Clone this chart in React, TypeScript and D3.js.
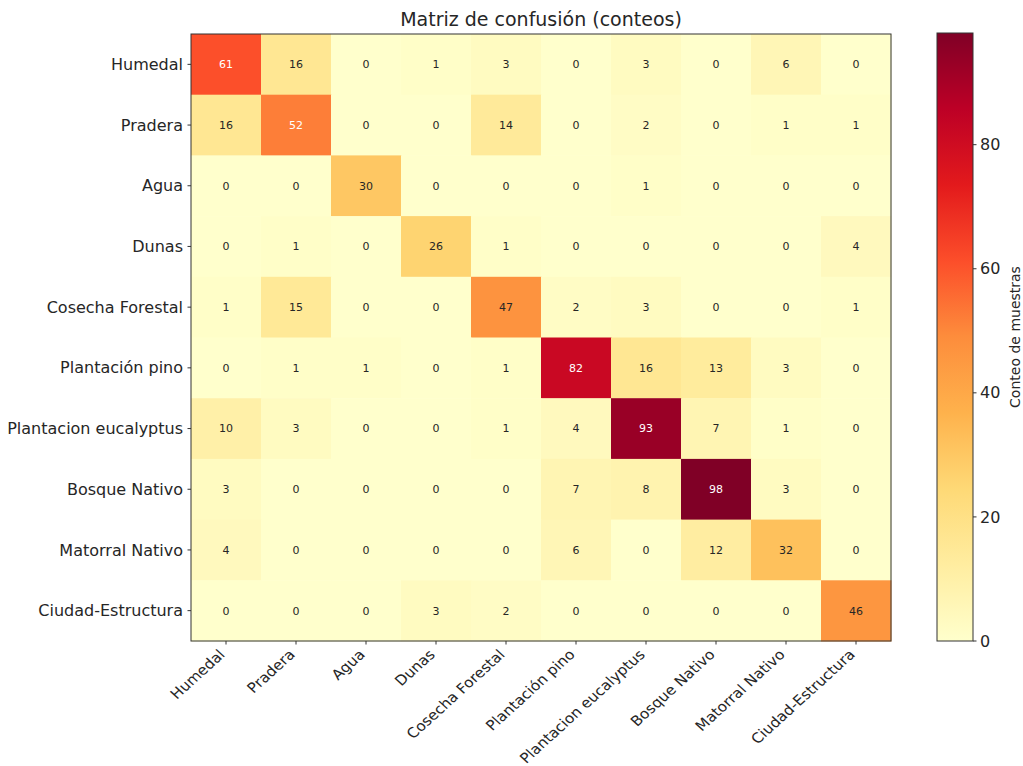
import React from "react";
import * as d3 from "d3";

const classes = [
  "Humedal",
  "Pradera",
  "Agua",
  "Dunas",
  "Cosecha Forestal",
  "Plantación pino",
  "Plantacion eucalyptus",
  "Bosque Nativo",
  "Matorral Nativo",
  "Ciudad-Estructura",
];

const rowHumedal = [61, 16, 0, 1, 3, 0, 3, 0, 6, 0];
const rowPradera = [16, 52, 0, 0, 14, 0, 2, 0, 1, 1];
const rowAgua = [0, 0, 30, 0, 0, 0, 1, 0, 0, 0];
const rowDunas = [0, 1, 0, 26, 1, 0, 0, 0, 0, 4];
const rowCosecha = [1, 15, 0, 0, 47, 2, 3, 0, 0, 1];
const rowPino = [0, 1, 1, 0, 1, 82, 16, 13, 3, 0];
const rowEucalyptus = [10, 3, 0, 0, 1, 4, 93, 7, 1, 0];
const rowBosque = [3, 0, 0, 0, 0, 7, 8, 98, 3, 0];
const rowMatorral = [4, 0, 0, 0, 0, 6, 0, 12, 32, 0];
const rowCiudad = [0, 0, 0, 3, 2, 0, 0, 0, 0, 46];

const matrix = [
  rowHumedal,
  rowPradera,
  rowAgua,
  rowDunas,
  rowCosecha,
  rowPino,
  rowEucalyptus,
  rowBosque,
  rowMatorral,
  rowCiudad,
];

const colorbarTicks = [0, 20, 40, 60, 80];

// YlOrRd (9-class) anchors, linearly interpolated
const ylOrRd = [
  "#ffffcc",
  "#ffeda0",
  "#fed976",
  "#feb24c",
  "#fd8d3c",
  "#fc4e2a",
  "#e31a1c",
  "#bd0026",
  "#800026",
];

const FONT = "DejaVu Sans, sans-serif";

export default function App() {
  const left = 191;
  const right = 891;
  const top = 34;
  const bottom = 641;

  const vmax = d3.max(matrix.flat()) as number;
  const vmin = 0;

  const x = d3.scaleBand<number>().domain(d3.range(classes.length)).range([left, right]).padding(0);
  const y = d3.scaleBand<number>().domain(d3.range(classes.length)).range([top, bottom]).padding(0);

  const color = d3
    .scaleLinear<string>()
    .domain(ylOrRd.map((_, i) => vmin + (i / (ylOrRd.length - 1)) * (vmax - vmin)))
    .range(ylOrRd)
    .interpolate(d3.interpolateRgb)
    .clamp(true);

  const threshold = vmax / 2;

  // colorbar geometry
  const cbLeft = 937;
  const cbRight = 973;
  const cbTop = 33;
  const cbBottom = 641;
  const cbScale = d3.scaleLinear().domain([vmin, vmax]).range([cbBottom, cbTop]);

  const textDark = "#262626";

  return (
    <svg
      width={1023}
      height={766}
      style={{ position: "absolute", left: 0, top: 0, background: "#fff" }}
      fontFamily={FONT}
    >
      <defs>
        <linearGradient id="cbGrad" x1="0" y1="1" x2="0" y2="0">
          {ylOrRd.map((c, i) => (
            <stop key={i} offset={`${(i / (ylOrRd.length - 1)) * 100}%`} stopColor={c} />
          ))}
        </linearGradient>
      </defs>

      <text x={(left + right) / 2} y={26} textAnchor="middle" fontSize={19} fill={textDark}>
        Matriz de confusión (conteos)
      </text>

      {matrix.map((row, i) =>
        row.map((v, j) => (
          <g key={`${i}-${j}`}>
            <rect
              x={x(j)}
              y={y(i)}
              width={x.bandwidth() + 0.5}
              height={y.bandwidth() + 0.5}
              fill={color(v)}
            />
            <text
              x={(x(j) as number) + x.bandwidth() / 2}
              y={(y(i) as number) + y.bandwidth() / 2}
              dy="0.35em"
              textAnchor="middle"
              fontSize={11}
              fill={v > threshold ? "#ffffff" : textDark}
            >
              {v}
            </text>
          </g>
        ))
      )}

      <rect x={left} y={top} width={right - left} height={bottom - top} fill="none" stroke="#333" strokeWidth={1} />

      {/* y axis */}
      {classes.map((c, i) => {
        const cy = (y(i) as number) + y.bandwidth() / 2;
        return (
          <g key={`y-${c}`}>
            <line x1={left - 3.5} x2={left} y1={cy} y2={cy} stroke="#333" />
            <text x={left - 8} y={cy} dy="0.35em" textAnchor="end" fontSize={16} fill={textDark}>
              {c}
            </text>
          </g>
        );
      })}

      {/* x axis: labels at 45°, slightly widened */}
      {classes.map((c, j) => {
        const cx = (x(j) as number) + x.bandwidth() / 2;
        return (
          <g key={`x-${c}`}>
            <line x1={cx} x2={cx} y1={bottom} y2={bottom + 3.5} stroke="#333" />
            <text
              transform={`translate(${cx - 4},${bottom + 11}) scale(1.1,1) rotate(-45)`}
              textAnchor="end"
              dy="0.35em"
              fontSize={14}
              fill={textDark}
            >
              {c}
            </text>
          </g>
        );
      })}

      {/* colorbar */}
      <rect x={cbLeft} y={cbTop} width={cbRight - cbLeft} height={cbBottom - cbTop} fill="url(#cbGrad)" stroke="#333" strokeWidth={1} />
      {colorbarTicks.map((t) => (
        <g key={`cb-${t}`}>
          <line x1={cbRight} x2={cbRight + 3.5} y1={cbScale(t)} y2={cbScale(t)} stroke="#333" />
          <text x={cbRight + 7} y={cbScale(t)} dy="0.35em" fontSize={16} fill={textDark}>
            {t}
          </text>
        </g>
      ))}
      <text
        transform={`translate(1020,${(cbTop + cbBottom) / 2}) rotate(-90)`}
        textAnchor="middle"
        fontSize={14}
        fill={textDark}
      >
        Conteo de muestras
      </text>
    </svg>
  );
}
